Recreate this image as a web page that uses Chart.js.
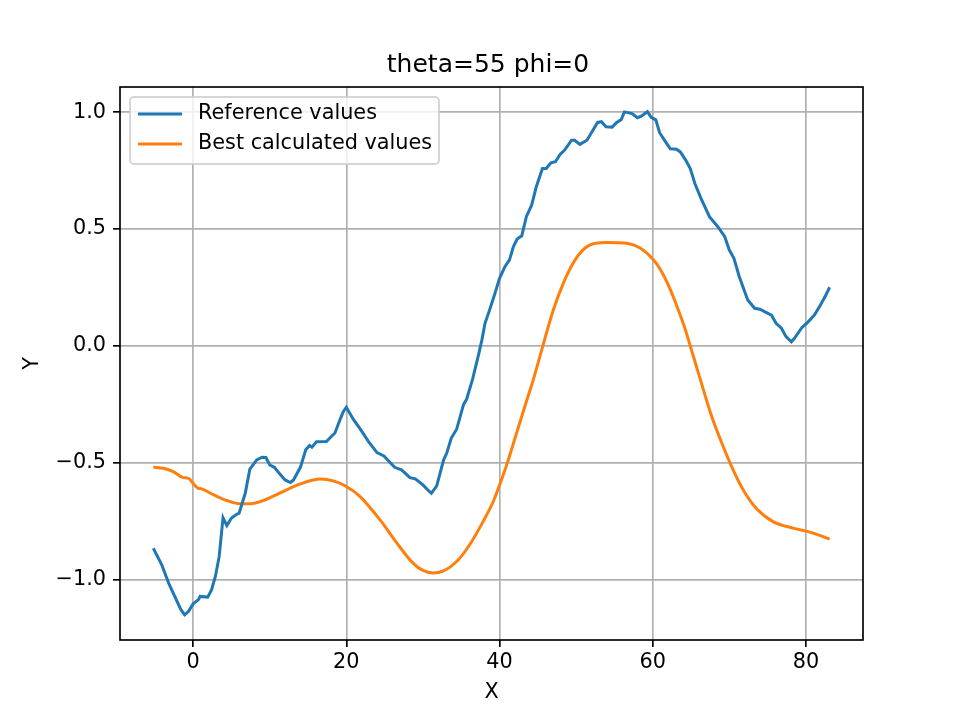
<!DOCTYPE html>
<html>
<head>
<meta charset="utf-8">
<script src="https://cdn.jsdelivr.net/npm/chart.js@4/dist/chart.umd.min.js"></script>
<style>
  html, body { margin: 0; padding: 0; background: #fff; }
  #wrap { width: 960px; height: 720px; }
</style>
</head>
<body>
<div id="wrap"><canvas id="chart" width="960" height="720"></canvas></div>
<script>
// values
const refX = [-5.2, -4.1, -3.2, -2.6, -1.6, -1.1, -0.6, 0.0, 0.7, 0.9, 1.9, 2.4, 2.9, 3.4, 3.9, 4.4, 5.0, 5.6, 6.0, 6.8,
  7.4, 8.3, 9.0, 9.5, 10.0, 10.6, 11.3, 12.0, 12.7, 13.1, 14.0, 14.7, 15.2, 15.5, 16.1, 17.4, 18.1, 18.5, 19.2, 19.6,
  20.0, 20.9, 21.8, 22.9, 24.0, 24.9, 26.3, 27.2, 28.3, 29.0, 30.0, 30.7, 31.1, 31.8, 32.7, 33.1, 33.7, 34.4, 34.8, 35.3,
  35.7, 36.5, 37.2, 37.7, 38.1, 38.7, 39.4, 40.0, 40.7, 41.3, 41.8, 42.3, 42.9, 43.5, 44.2, 44.8, 45.6, 46.1, 46.7, 47.3,
  47.9, 48.5, 49.4, 49.8, 50.5, 51.4, 52.0, 52.8, 53.3, 53.9, 54.7, 55.3, 55.9, 56.3, 57.3, 58.0, 58.5, 59.3, 59.8, 60.4,
  60.9, 61.7, 62.3, 63.1, 63.6, 64.3, 64.9, 65.5, 66.3, 67.4, 68.5, 69.4, 70.0, 70.6, 71.3, 72.4, 73.3, 74.0, 74.6, 75.5,
  76.1, 76.8, 77.4, 78.1, 78.5, 79.5, 80.2, 81.1, 81.9, 82.6, 83.1];
const refY = [-0.865, -0.936, -1.014, -1.057, -1.128, -1.150, -1.135, -1.103, -1.085, -1.071, -1.074, -1.043, -0.986, -0.900, -0.734, -0.768, -0.736, -0.722, -0.715, -0.630,
  -0.527, -0.487, -0.476, -0.477, -0.509, -0.519, -0.547, -0.573, -0.584, -0.573, -0.519, -0.444, -0.426, -0.433, -0.410, -0.409, -0.385, -0.373, -0.313, -0.281,
  -0.262, -0.313, -0.355, -0.409, -0.456, -0.470, -0.519, -0.530, -0.563, -0.568, -0.594, -0.618, -0.630, -0.598, -0.487, -0.459, -0.394, -0.356, -0.310, -0.250,
  -0.228, -0.140, -0.046, 0.026, 0.097, 0.154, 0.225, 0.289, 0.339, 0.368, 0.424, 0.457, 0.471, 0.553, 0.603, 0.681, 0.759, 0.759, 0.783, 0.788,
  0.819, 0.838, 0.880, 0.880, 0.862, 0.880, 0.912, 0.956, 0.959, 0.937, 0.936, 0.956, 0.969, 1.001, 0.994, 0.976, 0.983, 1.002, 0.978, 0.967,
  0.912, 0.872, 0.843, 0.841, 0.830, 0.795, 0.759, 0.695, 0.631, 0.553, 0.510, 0.467, 0.410, 0.375, 0.296, 0.197, 0.161, 0.157, 0.147, 0.132,
  0.097, 0.076, 0.040, 0.018, 0.033, 0.080, 0.100, 0.132, 0.175, 0.218, 0.251];

const calcX = [-5.2, -3.9, -2.6, -1.3, -0.6, 0.05, 0.6, 1.1, 2.7, 4.4, 6.1, 7.4, 9.2, 11.3, 14.0, 16.6, 18.3, 20.0, 21.8, 24.4,
  26.6, 28.7, 30.0, 31.3, 32.7, 34.4, 36.1, 37.9, 39.2, 40.3, 41.0, 42.2, 43.3, 44.4, 45.5, 47.0, 48.5, 50.0, 51.8, 53.9,
  56.6, 58.3, 60.0, 60.9, 62.2, 63.5, 64.2, 64.9, 66.1, 67.7, 69.2, 70.3, 71.8, 73.5, 75.7, 78.3, 80.5, 83.1];
const calcY = [-0.518, -0.523, -0.537, -0.563, -0.566, -0.590, -0.608, -0.611, -0.637, -0.661, -0.675, -0.675, -0.661, -0.629, -0.590, -0.569, -0.577, -0.601, -0.644, -0.744,
  -0.843, -0.929, -0.960, -0.971, -0.962, -0.922, -0.850, -0.748, -0.664, -0.568, -0.502, -0.375, -0.259, -0.145, -0.018, 0.152, 0.282, 0.375, 0.432, 0.443,
  0.439, 0.420, 0.372, 0.332, 0.248, 0.140, 0.076, 0.000, -0.131, -0.302, -0.430, -0.516, -0.615, -0.694, -0.751, -0.779, -0.796, -0.826];

const xTicks = [0, 20, 40, 60, 80];
const yTicks = [-1.0, -0.5, 0.0, 0.5, 1.0];
const seriesNames = ["Reference values", "Best calculated values"];
const seriesColors = ["#1f77b4", "#ff7f0e"];

Chart.defaults.font.family = "'DejaVu Sans', sans-serif";
Chart.defaults.color = "#000";

const pts = (xs, ys) => xs.map((x, i) => ({ x: x, y: ys[i] }));

// legend in upper-left of the plot, like matplotlib's, plus the four spines
const insideLegend = {
  id: "insideLegend",
  afterDatasetsDraw(chart) {
    const ctx = chart.ctx;
    const a = chart.chartArea;
    const x0 = a.left + 10, y0 = a.top + 10, w = 309, h = 67;
    ctx.save();
    ctx.beginPath();
    ctx.roundRect(x0, y0, w, h, 4);
    ctx.fillStyle = "rgba(255,255,255,0.8)";
    ctx.fill();
    ctx.lineWidth = 2;
    ctx.strokeStyle = "rgba(204,204,204,0.8)";
    ctx.stroke();
    ctx.font = "20.8px 'DejaVu Sans'";
    ctx.textBaseline = "middle";
    ctx.textAlign = "left";
    chart.data.datasets.forEach((ds, i) => {
      const yy = y0 + 17 + i * 30;
      ctx.beginPath();
      ctx.moveTo(x0 + 8, yy);
      ctx.lineTo(x0 + 52, yy);
      ctx.strokeStyle = ds.borderColor;
      ctx.lineWidth = 3;
      ctx.stroke();
      ctx.fillStyle = "#000";
      ctx.fillText(ds.label, x0 + 68, yy);
    });
    ctx.restore();
  },
  afterDraw(chart) {
    const ctx = chart.ctx;
    const a = chart.chartArea;
    ctx.save();
    ctx.strokeStyle = "#000";
    ctx.lineWidth = 1.67;
    ctx.strokeRect(a.left, a.top, a.right - a.left, a.bottom - a.top);
    ctx.restore();
  }
};

new Chart(document.getElementById("chart"), {
  type: "line",
  data: {
    datasets: [
      { label: seriesNames[0], data: pts(refX, refY), borderColor: seriesColors[0], backgroundColor: seriesColors[0],
        borderWidth: 3, pointRadius: 0, tension: 0, fill: false },
      { label: seriesNames[1], data: pts(calcX, calcY), borderColor: seriesColors[1], backgroundColor: seriesColors[1],
        borderWidth: 3, pointRadius: 0, cubicInterpolationMode: "monotone", fill: false },
    ],
  },
  options: {
    responsive: false,
    animation: false,
    devicePixelRatio: 1,
    layout: { padding: { left: 16, right: 0, top: 0, bottom: 0 } },
    plugins: {
      legend: { display: false },
      tooltip: { enabled: false },
      title: {
        display: true, text: "theta=55 phi=0", color: "#000",
        font: { size: 25, weight: "normal" }, padding: { top: 50, bottom: 7 },
      },
    },
    scales: {
      x: {
        type: "linear", min: -9.55, max: 87.45,
        afterBuildTicks: s => { s.ticks = xTicks.map(v => ({ value: v })); },
        afterFit: s => { s.height = 80; },
        ticks: { font: { size: 20.8 }, color: "#000", padding: 3.5, maxRotation: 0, callback: v => String(v) },
        grid: { color: "#b0b0b0", lineWidth: 1.67, tickColor: "#000", tickWidth: 1.67, tickLength: 7 },
        border: { display: false },
        title: { display: true, text: "X", font: { size: 20.8 }, color: "#000", padding: { top: 0, bottom: 14.5 } },
      },
      y: {
        type: "linear", min: -1.2575, max: 1.1075,
        afterBuildTicks: s => { s.ticks = yTicks.map(v => ({ value: v })); },
        afterFit: s => { s.width = 104; },
        ticks: { font: { size: 20.8 }, color: "#000", padding: 7, callback: v => v.toFixed(1).replace("-", "\u2212") },
        grid: { color: "#b0b0b0", lineWidth: 1.67, tickColor: "#000", tickWidth: 1.67, tickLength: 7 },
        border: { display: false },
        title: { display: true, text: "Y", font: { size: 20.8, lineHeight: 0.5 }, color: "#000", padding: { top: 11.8, bottom: 0 } },
      },
      // empty right-hand margin so the title centres over the plot
      yRight: {
        type: "linear", position: "right", display: true,
        afterFit: s => { s.width = 97; },
        ticks: { display: false },
        grid: { display: false, drawTicks: false },
        border: { display: false },
      },
    },
  },
  plugins: [insideLegend],
});
</script>
</body>
</html>
